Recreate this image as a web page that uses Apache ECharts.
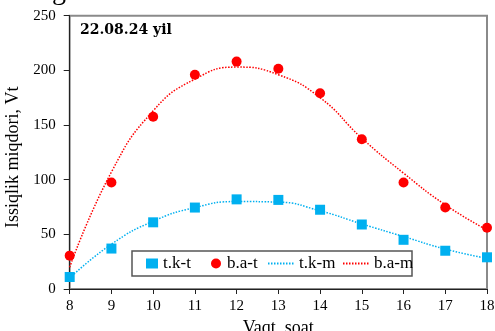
<!DOCTYPE html>
<html>
<head>
<meta charset="utf-8">
<script src="https://cdn.jsdelivr.net/npm/echarts@6/dist/echarts.min.js"></script>
<style>
  html, body { margin: 0; padding: 0; background: #fff; }
  #chart { width: 495px; height: 331px; }
</style>
</head>
<body>
<div id="chart"></div>
<script>
// Hours of the day (x axis)
const hours = [8, 9, 10, 11, 12, 13, 14, 15, 16, 17, 18];

// Measured heat amount, W
const tkMeasured = [11, 37, 61, 74.5, 82, 81.5, 72.5, 59, 45, 35, 29];
const baMeasured = [30.5, 97.5, 157.5, 196, 208, 201.5, 179, 137, 97.5, 74.5, 56];

// Model (trend) curves, W
const tkModel = [10, 41, 62, 74.5, 80, 79.5, 71.5, 59.5, 48, 36.5, 28];
const baModel = [20, 107, 163, 192, 203, 196, 175, 138, 106, 77, 54];

// Axis ticks
const yTicks = { min: 0, max: 250, step: 50 };
const xTicks = { min: 8, max: 18, step: 1 };

const pairs = (xs, ys) => xs.map((x, i) => [x, ys[i]]);

const BLUE = '#00B0F0';
const RED = '#FF0000';
const serif = 'Liberation Serif';

const chart = echarts.init(document.getElementById('chart'), null, { renderer: 'canvas' });

const legendBase = {
  top: 255,
  padding: 0,
  itemHeight: 10,
  textStyle: { fontFamily: serif, fontSize: 17, color: '#000' },
  selectedMode: false
};
// line-only legend entries: hide the marker drawn over the line icon
const lineLegend = {
  itemWidth: 26,
  itemStyle: { color: 'rgba(0,0,0,0)', borderColor: 'rgba(0,0,0,0)', borderWidth: 0 }
};

chart.setOption({
  animation: false,
  backgroundColor: '#fff',
  grid: {
    left: 69.7, right: 8, top: 15.7, bottom: 42,
    outerBoundsMode: 'none', containLabel: false,
    show: true, borderColor: '#8a8a8a', borderWidth: 2, backgroundColor: 'transparent'
  },
  xAxis: {
    type: 'value',
    min: xTicks.min, max: xTicks.max, interval: xTicks.step,
    name: 'Vaqt, soat',
    nameLocation: 'middle',
    nameGap: 24,
    nameTextStyle: { fontFamily: serif, fontSize: 18, color: '#000' },
    axisLine: { show: true, onZero: false, lineStyle: { color: '#222', width: 1 } },
    axisTick: { show: true, inside: false, length: 5, lineStyle: { color: '#222' } },
    axisLabel: { margin: 10, fontFamily: serif, fontSize: 15, color: '#000' },
    splitLine: { show: false }
  },
  yAxis: {
    type: 'value',
    min: yTicks.min, max: yTicks.max, interval: yTicks.step,
    name: 'Issiqlik miqdori, Vt',
    nameLocation: 'middle',
    nameGap: 44,
    nameTextStyle: { fontFamily: serif, fontSize: 18, color: '#000', padding: [0, 10, 0, 0] },
    axisLine: { show: true, onZero: false, lineStyle: { color: '#222', width: 1 } },
    axisTick: { show: true, inside: false, length: 6, lineStyle: { color: '#222' } },
    axisLabel: { margin: 14, fontFamily: serif, fontSize: 15, color: '#000' },
    splitLine: { show: false }
  },
  legend: [
    Object.assign({}, legendBase, { left: 146, itemWidth: 12, data: ['t.k-t'] }),
    Object.assign({}, legendBase, { left: 211, itemWidth: 12, data: ['b.a-t'] }),
    Object.assign({}, legendBase, lineLegend, { left: 267, data: ['t.k-m'] }),
    Object.assign({}, legendBase, lineLegend, { left: 342, data: ['b.a-m'] })
  ],
  graphic: [
    {
      type: 'rect', z: 1,
      shape: { x: 132, y: 251, width: 280, height: 25 },
      style: { fill: '#fff', stroke: '#555', lineWidth: 1.5 }
    },
    {
      type: 'text', left: 80, top: 23, z: 10,
      style: { text: '22.08.24 yil', font: 'bold 14px "DejaVu Serif"', fill: '#000' }
    },
    {
      type: 'text', x: 52, y: 6, z: 10,
      style: { text: 'g', font: '28px "Liberation Serif"', fill: '#000', verticalAlign: 'bottom' }
    }
  ],
  series: [
    {
      name: 't.k-m', type: 'line', data: pairs(hours, tkModel),
      smooth: 0.5, symbol: 'none', z: 2,
      lineStyle: { color: BLUE, width: 1.5, type: [1.5, 1.5] },
      itemStyle: { color: BLUE }
    },
    {
      name: 'b.a-m', type: 'line', data: pairs(hours, baModel),
      smooth: 0.5, symbol: 'none', z: 2,
      lineStyle: { color: RED, width: 1.5, type: [1.5, 1.5] },
      itemStyle: { color: RED }
    },
    {
      name: 't.k-t', type: 'scatter', data: pairs(hours, tkMeasured),
      symbol: 'rect', symbolSize: 10, z: 3,
      itemStyle: { color: BLUE, opacity: 1 }
    },
    {
      name: 'b.a-t', type: 'scatter', data: pairs(hours, baMeasured),
      symbol: 'circle', symbolSize: 10, z: 3,
      itemStyle: { color: RED, opacity: 1 }
    }
  ]
});
</script>
</body>
</html>
